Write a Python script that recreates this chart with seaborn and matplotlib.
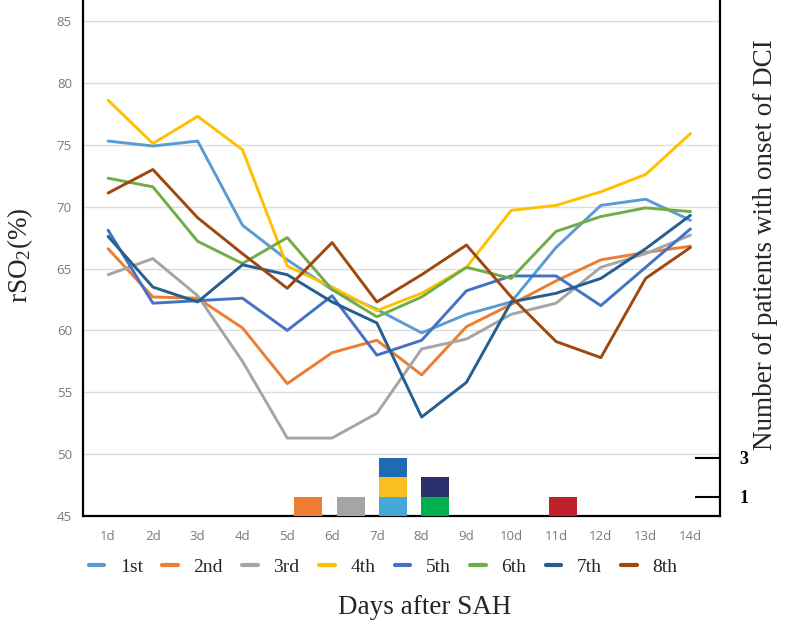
import numpy as np
import pandas as pd
import matplotlib
matplotlib.use("Agg")
import matplotlib.pyplot as plt
import seaborn as sns

# ---------------- data ----------------
days = list(range(1, 15))
day_labels = [f"{d}d" for d in days]
series_names = ["1st", "2nd", "3rd", "4th", "5th", "6th", "7th", "8th"]

s1 = [75.3, 74.9, 75.3, 68.5, 65.7, 63.3, 61.7, 59.8, 61.3, 62.3, 66.7, 70.1, 70.6, 68.9]
s2 = [66.6, 62.7, 62.6, 60.2, 55.7, 58.2, 59.2, 56.4, 60.3, 62.1, 64.0, 65.7, 66.3, 66.8]
s3 = [64.5, 65.8, 62.8, 57.5, 51.3, 51.3, 53.3, 58.5, 59.3, 61.3, 62.2, 65.1, 66.2, 67.7]
s4 = [78.6, 75.1, 77.3, 74.6, 65.2, 63.5, 61.6, 63.0, 65.1, 69.7, 70.1, 71.2, 72.6, 75.9]
s5 = [68.1, 62.2, 62.4, 62.6, 60.0, 62.8, 58.0, 59.2, 63.2, 64.4, 64.4, 62.0, 65.1, 68.2]
s6 = [72.3, 71.6, 67.2, 65.4, 67.5, 63.3, 61.1, 62.7, 65.1, 64.2, 68.0, 69.2, 69.9, 69.6]
s7 = [67.6, 63.5, 62.3, 65.3, 64.5, 62.3, 60.6, 53.0, 55.8, 62.3, 63.0, 64.2, 66.6, 69.3]
s8 = [71.1, 73.0, 69.1, 66.2, 63.4, 67.1, 62.3, 64.5, 66.9, 62.7, 59.1, 57.8, 64.2, 66.7]
series_values = [s1, s2, s3, s4, s5, s6, s7, s8]
line_colors = ["#5B9BD5", "#ED7D31", "#A5A5A5", "#FFC000",
               "#4472C4", "#70AD47", "#255E91", "#9E480E"]

# DCI onset bars (each segment = 1 patient, stacked per day)
dci_days = [5, 6, 7, 7, 7, 8, 8, 11]
dci_counts = [1, 1, 1, 1, 1, 1, 1, 1]
dci_colors = ["#ED7D31", "#A5A5A5", "#45A8D6", "#F9BF22", "#1F6BB3",
              "#00B050", "#2B2F6B", "#C0202A"]
dci_ticks = [1, 3]

# ---------------- style ----------------
sns.set_style("white")
plt.rcParams["font.family"] = ["Liberation Serif", "DejaVu Serif"]
plt.rcParams["mathtext.fontset"] = "custom"
plt.rcParams["mathtext.rm"] = "Liberation Serif"
plt.rcParams["mathtext.it"] = "Liberation Serif:italic"

fig = plt.figure(figsize=(7.96, 6.24), dpi=100)
pos = [83 / 796, 108 / 624, 637 / 796, 516 / 624]
ax = fig.add_axes(pos)

df = pd.DataFrame({
    "day": np.tile(days, len(series_names)),
    "value": np.concatenate(series_values),
    "series": np.repeat(series_names, len(days)),
})
sns.lineplot(data=df, x="day", y="value", hue="series", hue_order=series_names,
             palette=line_colors, linewidth=2.1, legend=False, ax=ax, zorder=3)

ax.set_xlim(0.44, 14.66)
ax.set_ylim(45, 86.7)
ax.set_yticks(range(45, 86, 5))
ax.set_xticks(days)
ax.set_xticklabels(day_labels)
ax.set_xlabel("")
ax.set_ylabel("")
ax.grid(axis="y", color="#DCDCDC", linewidth=1.0)
ax.grid(axis="x", visible=False)
ax.tick_params(axis="both", length=0, labelsize=9.5, labelcolor="#7A7A7A")
ax.tick_params(axis="y", pad=8)
ax.tick_params(axis="x", pad=10)
for lbl in ax.get_xticklabels() + ax.get_yticklabels():
    lbl.set_family("Open Sans")
for side in ["top", "right"]:
    ax.spines[side].set_visible(False)
for side in ["left", "bottom"]:
    ax.spines[side].set_color("black")
    ax.spines[side].set_linewidth(1.6)

# ---------------- bars axis ----------------
ax2 = fig.add_axes(pos, facecolor="none")
ax2.set_xlim(-0.3, 14.7)
ax2.set_ylim(0, 26.5)
stack = {}
for d, c, col in zip(dci_days, dci_counts, dci_colors):
    b = stack.get(d, 0)
    ax2.bar(d, c, bottom=b, width=0.66, color=col, linewidth=0)
    stack[d] = b + c
ax2.set_xticks([])
ax2.yaxis.tick_right()
ax2.set_yticks(dci_ticks)
ax2.set_yticklabels([str(t) for t in dci_ticks], fontweight="bold", fontsize=13)
ax2.tick_params(axis="y", direction="in", length=18, width=1.5, pad=14,
                colors="black")
for side in ["top", "left", "bottom"]:
    ax2.spines[side].set_visible(False)
ax2.spines["right"].set_color("black")
ax2.spines["right"].set_linewidth(1.6)

# ---------------- labels ----------------
fig.text(20 / 796, 1 - 255 / 624, r"rSO$_\mathrm{2}$(%)", rotation=90,
         ha="center", va="center", fontsize=19.5)
fig.text(766 / 796, 1 - 245 / 624, "Number of patients with onset of DCI",
         rotation=90, ha="center", va="center", fontsize=19.5)
fig.text(425 / 796, 1 - 607 / 624, "Days after SAH", ha="center", va="center",
         fontsize=19.5)

handles = ax.get_lines()[:len(series_names)]
fig.legend(handles, series_names, loc="center", ncol=8,
           bbox_to_anchor=(383 / 796, 1 - 567 / 624), frameon=False,
           fontsize=14, handlelength=0.8, handletextpad=0.8,
           columnspacing=1.0)
for h in fig.legends[0].get_lines():
    h.set_linewidth(3)

fig.savefig("out.png", dpi=100)
